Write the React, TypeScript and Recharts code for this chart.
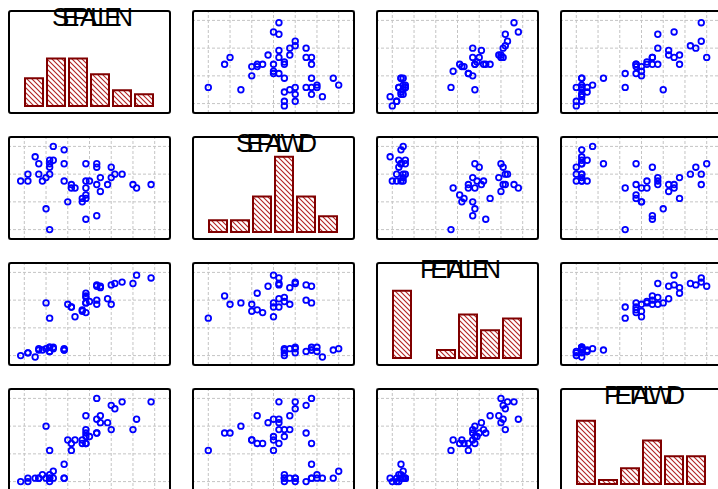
import React from "react";
import { ScatterChart, Scatter, XAxis, YAxis, CartesianGrid, BarChart, Bar } from "recharts";

const varNames = ["SEPALLEN", "SEPALWID", "PETALLEN", "PETALWID"];

// one entry per flower, same order in all four lists
const sepalLen = [
  51, 54, 46, 47, 50, 51, 50, 50, 50, 54, 44, 47, 49, 42, 44, 48, 54,
  50, 57, 60, 59, 59, 55, 49, 63, 60, 56, 60, 61, 60, 67, 60, 63, 60, 56, 66,
  63, 67, 70, 68, 64, 73, 63, 64, 78, 74,
];
const sepalWid = [
  44, 43, 41, 39, 40, 40, 39, 38, 36, 39, 36, 36, 35, 34, 34, 34, 34,
  20, 32, 30, 29, 28, 28, 26, 24, 23, 32, 32, 34, 34, 35, 39, 38, 29, 33, 33,
  39, 38, 36, 36, 35, 33, 33, 31, 33, 32,
];
const petalLen = [
  15, 14, 9, 14, 13, 16, 16, 13, 16, 14, 12, 15, 15, 10, 12, 14, 15,
  37, 38, 41, 43, 42, 47, 48, 47, 53, 45, 48, 49, 52, 47, 48, 50, 55, 45, 51,
  60, 61, 63, 62, 59, 62, 61, 60, 66, 68,
];
const petalWid = [
  4, 2, 2, 2, 3, 2, 2, 1, 2, 6, 1, 2, 2, 1, 2, 3, 2,
  10, 13, 12, 12, 13, 13, 17, 15, 15, 10, 14, 14, 16, 16, 12, 15, 20, 12, 18,
  25, 23, 24, 22, 20, 16, 19, 18, 24, 19,
];

// histogram counts, six bins per variable
const sepalLenHist = [7, 12, 12, 8, 4, 3];
const sepalWidHist = [3, 3, 9, 19, 9, 4];
const petalLenHist = [17, 0, 2, 11, 7, 10];
const petalWidHist = [16, 1, 4, 11, 7, 7];

// grid ticks: first value and step for each variable
const tickStart = [43, 20, 10, 1];
const tickStep = [6, 4, 10, 4];

const columns = [sepalLen, sepalWid, petalLen, petalWid];
const hists = [sepalLenHist, sepalWidHist, petalLenHist, petalWidHist];

const W = 163;
const H = 104;

const domainOf = (v: number): [number, number] => [
  tickStart[v] - 0.75 * tickStep[v],
  tickStart[v] + 6.75 * tickStep[v],
];
const ticksOf = (v: number) => [0, 1, 2, 3, 4, 5, 6].map((k) => tickStart[v] + k * tickStep[v]);

const Ring = (p: any) => (
  <circle cx={p.cx} cy={p.cy} r={2.8} fill="none" stroke="#0000ff" strokeWidth={1.8} />
);

const ScatterCell = ({ row, col }: { row: number; col: number }) => {
  const data = columns[col].map((x, k) => ({ x, y: columns[row][k] }));
  return (
    <ScatterChart width={W} height={H} margin={{ top: 0, right: 0, bottom: 0, left: 0 }}>
      <CartesianGrid strokeDasharray="3 2" stroke="#c4c4c4" />
      <XAxis type="number" dataKey="x" domain={domainOf(col)} ticks={ticksOf(col)} hide allowDataOverflow />
      <YAxis type="number" dataKey="y" domain={domainOf(row)} ticks={ticksOf(row)} hide allowDataOverflow />
      <Scatter data={data} shape={Ring} isAnimationActive={false} />
    </ScatterChart>
  );
};

const HistCell = ({ v }: { v: number }) => {
  const data = hists[v].map((n, i) => ({ bin: i, n }));
  const id = "hatch" + v;
  return (
    <BarChart
      width={W}
      height={H}
      data={data}
      barCategoryGap={2}
      margin={{ top: 9, right: 16, bottom: 8, left: 15 }}
    >
      <defs>
        <pattern id={id} patternUnits="userSpaceOnUse" width={5} height={5}>
          <rect width={5} height={5} fill="#fff" />
          <path d="M-1,-1 L6,6 M-1,4 L1,6 M4,-1 L6,1" stroke="#b22222" strokeWidth={1.1} />
        </pattern>
      </defs>
      <XAxis dataKey="bin" hide />
      <YAxis domain={[0, 22]} hide />
      <Bar dataKey="n" fill={`url(#${id})`} stroke="#800000" strokeWidth={2} isAnimationActive={false} />
    </BarChart>
  );
};

export default function App() {
  const cells = [];
  for (let i = 0; i < 4; i++) {
    for (let j = 0; j < 4; j++) {
      const left = 8 + 184 * j;
      const top = 10 + 126 * i;
      cells.push(
        <div key={i + "-" + j} style={{ position: "absolute", left, top, width: W, height: H }}>
          {i === j ? <HistCell v={i} /> : <ScatterCell row={i} col={j} />}
          <div
            style={{
              position: "absolute",
              left: 0,
              top: 0,
              width: W,
              height: H,
              boxSizing: "border-box",
              border: "2px solid #000",
              borderRadius: 3,
              pointerEvents: "none",
            }}
          />
          {i === j && (
            <svg
              width={W}
              height={30}
              style={{ position: "absolute", left: 0, top: -8, overflow: "visible", pointerEvents: "none" }}
            >
              <text
                x={W / 2 + 3}
                y={23.5}
                textAnchor="middle"
                fontFamily="'Liberation Sans', Arial, sans-serif"
                fontSize={26}
                textLength={81}
                lengthAdjust="spacing"
                fill="#000"
              >
                {varNames[i]}
              </text>
            </svg>
          )}
        </div>
      );
    }
  }
  return (
    <div
      style={{
        position: "fixed",
        left: 0,
        top: 0,
        width: 718,
        height: 489,
        overflow: "hidden",
        background: "#fff",
      }}
    >
      {cells}
    </div>
  );
}
